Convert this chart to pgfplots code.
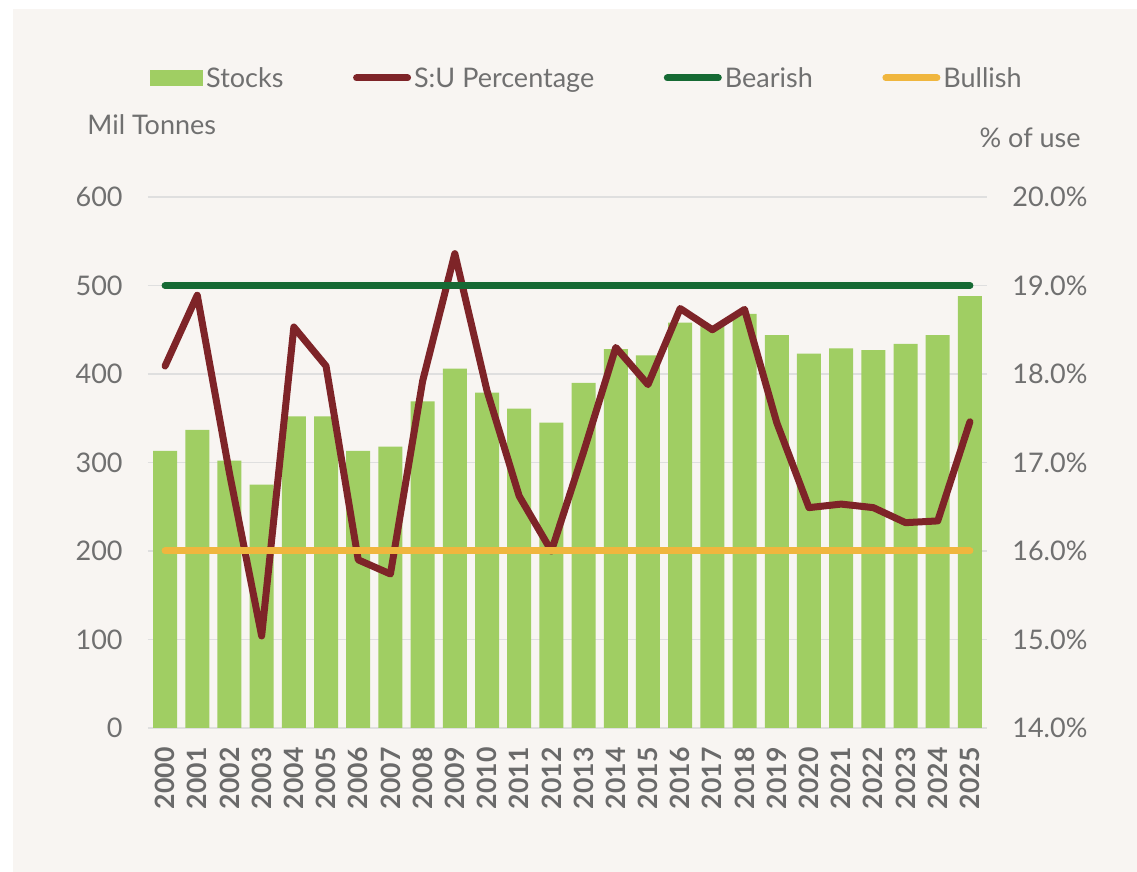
\documentclass[border=0pt]{standalone}
\usepackage{pgfplots}
\pgfplotsset{compat=1.18}
\usepackage{pgfplotstable}
\usepackage{fontspec}
\setmainfont{Lato}
\definecolor{bgc}{RGB}{248,245,242}
\definecolor{barc}{RGB}{160,206,99}
\definecolor{redc}{RGB}{126,36,40}
\definecolor{greenc}{RGB}{22,106,52}
\definecolor{yellc}{RGB}{240,182,62}
\definecolor{txtc}{RGB}{112,112,112}
\definecolor{gridc}{RGB}{223,223,223}
\newcommand{\fs}{\fontsize{13.5}{16}\selectfont}
\newcommand{\fx}{\fontsize{13.3}{16}\selectfont}

\pgfplotstableread{
x stocks su
0  313 18.09
1  337 18.89
2  302 16.88
3  275 15.04
4  352 18.53
5  352 18.09
6  313 15.90
7  318 15.74
8  369 17.92
9  406 19.36
10 379 17.81
11 361 16.62
12 345 16.00
13 390 17.12
14 428 18.30
15 421 17.88
16 458 18.74
17 455 18.50
18 468 18.73
19 444 17.45
20 423 16.49
21 429 16.53
22 427 16.49
23 434 16.32
24 444 16.34
25 488 17.46
}\data

\pgfplotstableread{
x v
0 19
25 19
}\bear
\pgfplotstableread{
x v
0 16
25 16
}\bull

\begin{document}
\begin{tikzpicture}
\fill[white] (0pt,0pt) rectangle (568.5pt,436pt);
\fill[bgc] (6.5pt,0pt) rectangle (568.5pt,431.5pt);
\begin{axis}[
  at={(74pt,72pt)}, anchor=south west,
  scale only axis, width=419.5pt, height=265.5pt,
  xmin=-0.53, xmax=25.53, ymin=0, ymax=600,
  axis line style={draw=none},
  major tick length=0pt,
  ymajorgrids, grid style={gridc, line width=0.75pt},
  ytick={0,100,200,300,400,500,600},
  yticklabels={0,100,200,300,400,500,600},
  xtick={0,...,25},
  xticklabels={2000,2001,2002,2003,2004,2005,2006,2007,2008,2009,2010,2011,2012,2013,2014,2015,2016,2017,2018,2019,2020,2021,2022,2023,2024,2025},
  tick label style={font=\fs, text=txtc, inner sep=0pt},
  xticklabel style={rotate=90, anchor=east, font=\fx\bfseries, text=txtc!95!black},
  xticklabel shift=9.5pt,
  yticklabel shift=12.5pt,
]
\addplot[ybar, bar width=12pt, fill=barc, draw=none] table[x=x,y=stocks]{\data};
\end{axis}
\begin{axis}[
  at={(74pt,72pt)}, anchor=south west,
  scale only axis, width=419.5pt, height=265.5pt,
  xmin=-0.53, xmax=25.53, ymin=14, ymax=20,
  axis y line*=right, hide x axis,
  axis line style={draw=none},
  major tick length=0pt,
  ytick={14,15,16,17,18,19,20},
  yticklabels={14.0\%,15.0\%,16.0\%,17.0\%,18.0\%,19.0\%,20.0\%},
  yticklabel style={font=\fs, text=txtc, inner sep=0pt, anchor=west},
  yticklabel shift=12.5pt,
  legend columns=4,
  legend style={at={(0.0024,1.2222)}, anchor=west, draw=none, fill=none,
    inner sep=0pt, font=\fs, text=txtc,
    nodes={inner sep=0pt, anchor=base west},
    /tikz/every odd column/.append style={column sep=1.5pt},
    /tikz/every even column/.append style={column sep=34.8pt}},
]
\addlegendimage{legend image code/.code={\fill[barc] (0pt,1pt) rectangle (26pt,8.5pt);}}
\addlegendentry{Stocks}
\addplot[redc, line width=3.5pt, line cap=round, line join=round,
  legend image code/.code={\draw[redc, line width=3.5pt, line cap=round] (1.75pt,4.75pt) -- (27.25pt,4.75pt);}]
  table[x=x,y=su]{\data};
\addlegendentry{S:U Percentage}
\addplot[greenc, line width=3.5pt, line cap=round,
  legend image code/.code={\draw[greenc, line width=3.5pt, line cap=round] (1.75pt,4.75pt) -- (27.25pt,4.75pt);}]
  table[x=x,y=v]{\bear};
\addlegendentry{Bearish}
\addplot[yellc, line width=3.5pt, line cap=round,
  legend image code/.code={\draw[yellc, line width=3.5pt, line cap=round] (1.75pt,4.75pt) -- (27.25pt,4.75pt);}]
  table[x=x,y=v]{\bull};
\addlegendentry{Bullish}
\end{axis}
\node[anchor=base west, inner sep=0pt, font=\fs, text=txtc] at (43.5pt,368.5pt) {Mil Tonnes};
\node[anchor=base east, inner sep=0pt, font=\fs, text=txtc] at (540.5pt,362pt) {\% of use};
\end{tikzpicture}
\end{document}
